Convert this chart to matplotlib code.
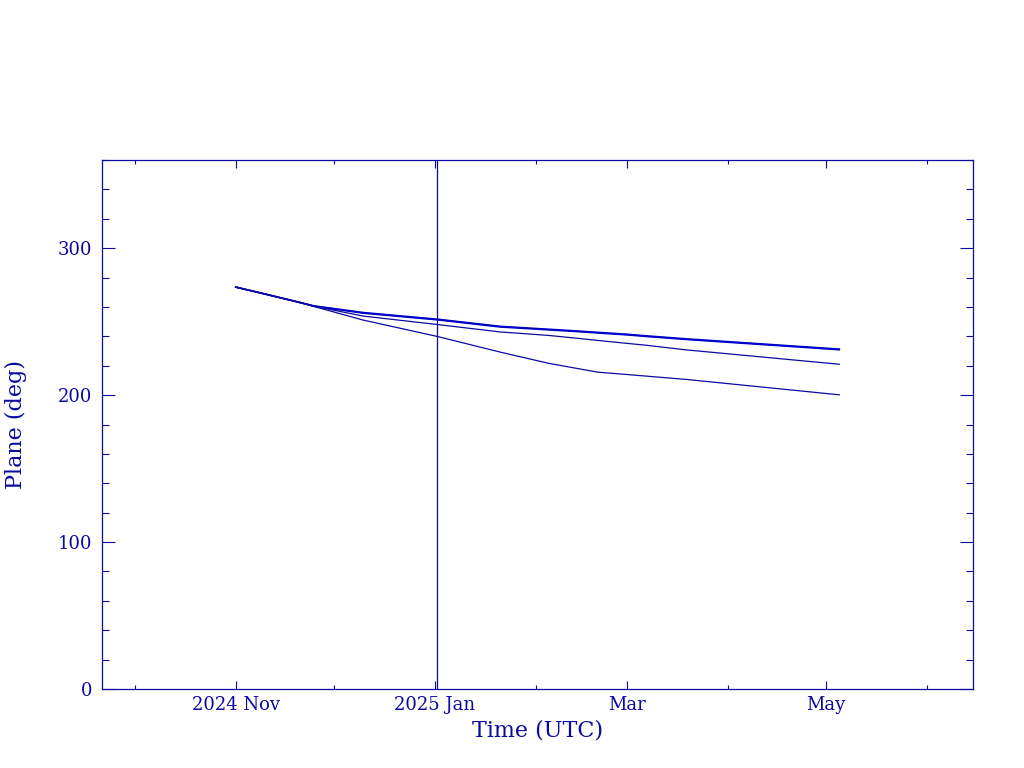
import matplotlib
matplotlib.use("Agg")
import matplotlib.pyplot as plt
import matplotlib.dates as mdates
import numpy as np
import pandas as pd

# ---- data ----
dates = ["2024-11-01", "2024-11-09", "2024-11-20", "2024-11-25", "2024-12-10",
         "2025-01-02", "2025-01-21", "2025-02-05", "2025-02-14", "2025-02-20",
         "2025-03-01", "2025-03-07", "2025-03-19", "2025-05-05"]
plane_a = [273.5, 269.3, 263.4, 260.7, 256.2, 251.6, 246.8, 244.8, 243.6, 242.7,
           241.4, 240.3, 238.3, 231.3]
plane_b = [273.5, 269.3, 263.4, 260.5, 255.8, 251.2, 246.4, 244.4, 243.2, 242.3,
           241.0, 239.9, 237.9, 230.9]
plane_c = [273.5, 269.3, 263.4, 260.5, 253.8, 248.0, 243.0, 240.6, 238.6, 237.2,
           235.2, 233.9, 230.8, 221.0]
plane_d = [273.5, 269.3, 263.4, 260.3, 251.1, 239.8, 229.3, 221.6, 218.0, 215.6,
           214.0, 212.9, 210.7, 200.2]
marker_time = "2025-01-01 18:00"

xlim = ("2024-09-21", "2025-06-15")
ylim = (0, 360)
xtick_dates = ["2024-11-01", "2025-01-01", "2025-03-01", "2025-05-01"]
xtick_labels = ["2024 Nov", "2025 Jan", "Mar", "May"]
ytick_vals = [0, 100, 200, 300]

col = "#0a0aa0"

fig = plt.figure(figsize=(10.24, 7.68), dpi=100)
ax = fig.add_axes([102/1024, 1-689/768, (973-102)/1024, (689-160)/768])

t = pd.to_datetime(dates)
ax.plot(t, plane_a, color="#0000c8", lw=1.2)
ax.plot(t, plane_b, color="#0000c8", lw=1.2)
ax.plot(t, plane_c, color=col, lw=0.9)
ax.plot(t, plane_d, color=col, lw=0.9)
ax.axvline(pd.Timestamp(marker_time), color=col, lw=0.9)

ax.set_xlim(pd.Timestamp(xlim[0]), pd.Timestamp(xlim[1]))
ax.set_ylim(*ylim)

ax.set_xticks(pd.to_datetime(xtick_dates))
ax.set_xticklabels(xtick_labels)
ax.xaxis.set_minor_locator(mdates.MonthLocator())
ax.set_yticks(ytick_vals)
ax.set_yticklabels([str(v) for v in ytick_vals])
ax.yaxis.set_minor_locator(matplotlib.ticker.MultipleLocator(20))

for s in ax.spines.values():
    s.set_color(col)
    s.set_linewidth(0.9)

ax.tick_params(axis="both", which="both", direction="in", top=True, right=True,
               colors=col, labelcolor=col)
ax.tick_params(axis="y", which="major", length=9.5, width=0.8, pad=7)
ax.tick_params(axis="y", which="minor", length=5, width=0.8)
ax.tick_params(axis="x", which="major", length=6, width=0.8, pad=5)
ax.tick_params(axis="x", which="minor", length=3, width=0.8)

for lab in ax.get_xticklabels() + ax.get_yticklabels():
    lab.set_fontfamily("DejaVu Serif")
    lab.set_fontsize(13)

ax.set_xlabel("Time (UTC)", color=col, fontsize=16, family="DejaVu Serif", labelpad=4)
ax.set_ylabel("Plane (deg)", color=col, fontsize=16, family="DejaVu Serif", labelpad=22)

fig.savefig("out.png", dpi=100)
